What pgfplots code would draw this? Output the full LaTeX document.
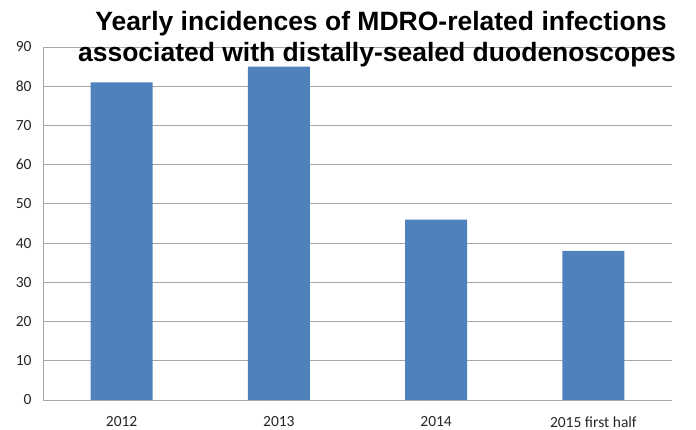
\documentclass[border=0pt]{standalone}
\usepackage{pgfplots}
\pgfplotsset{compat=1.18}
\usepackage{fontspec}
\setmainfont{Carlito}
\newfontfamily\titlefont{Liberation Sans}
\definecolor{barblue}{HTML}{4F81BD}
\definecolor{gridgray}{HTML}{A6A6A6}
\begin{document}
\begin{tikzpicture}
\useasboundingbox (-43pt,-30pt) rectangle (653pt,400pt);
\begin{axis}[
  at={(0pt,0pt)}, anchor=south west,
  scale only axis, width=629pt, height=353pt,
  xmin=-0.5, xmax=3.5, ymin=0, ymax=90,
  axis x line*=bottom, axis y line*=left,
  axis line style={gridgray, line width=0.8pt, -},
  xtick={0,1,2,3},
  xticklabels={2012,2013,2014,2015 first half},
  ytick={0,10,...,90},
  ymajorgrids, grid style={gridgray, line width=0.8pt},
  major tick length=0pt,
  tick label style={font=\fontsize{15.5}{17}\selectfont, text=black!85},
  /pgf/number format/assume math mode=true,
  yticklabel style={xshift=-8pt},
  xticklabel style={yshift=-13pt},
  clip=false,
]
\addplot[ybar, bar width=62pt, fill=barblue, draw=none] coordinates {(0,81) (1,85) (2,46) (3,38)};
\end{axis}
\node[anchor=base, font=\titlefont\bfseries\fontsize{26.5}{30}\selectfont] at (338pt,369pt) {Yearly incidences of MDRO-related infections};
\node[anchor=base, font=\titlefont\bfseries\fontsize{26.5}{30}\selectfont] at (334pt,338pt) {associated with distally-sealed duodenoscopes};
\end{tikzpicture}
\end{document}
